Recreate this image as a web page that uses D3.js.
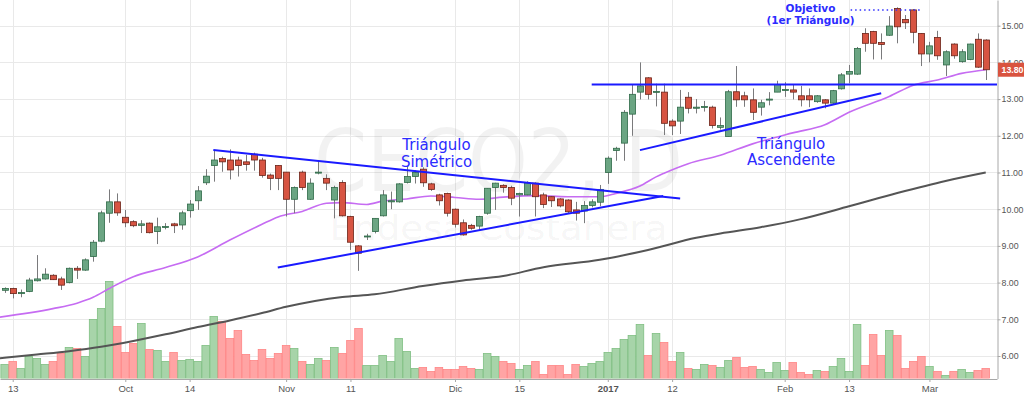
<!DOCTYPE html>
<html>
<head>
<meta charset="utf-8">
<script src="https://cdn.jsdelivr.net/npm/d3@7"></script>
<style>
html,body{margin:0;padding:0;background:#fff;}
svg{display:block;}
</style>
</head>
<body>
<svg id="chart" width="1024" height="394"></svg>
<script>
// ---------- DATA ----------
const xTickLabels = ["13","Oct","14","Nov","11","Dic","15","2017","12","Feb","13","Mar"];
const xTickIndex  = [1,15,23,35,43,56,64,75,83,97,105,115];
const yTickValues = [6,7,8,9,10,11,12,13,14,15];

const openP = [7.79,7.84,7.70,7.76,8.05,8.10,8.20,8.10,8.00,8.39,
  8.34,8.71,9.13,9.89,10.20,9.78,9.66,9.56,9.62,9.39,
  9.52,9.60,9.57,9.96,10.23,10.72,11.19,11.38,11.34,11.34,
  11.29,11.50,11.34,10.93,11.19,11.01,10.27,11.01,10.27,11.00,
  10.84,10.25,10.73,9.80,9.00,9.25,9.39,9.82,10.20,10.20,
  10.73,10.89,11.09,10.69,10.39,10.43,10.00,9.63,9.56,9.54,
  9.89,10.59,10.65,10.59,10.39,10.39,10.71,10.39,10.34,10.28,
  10.25,9.98,9.95,10.10,10.19,11.00,11.60,11.80,12.59,13.19,
  13.58,13.20,13.19,12.40,12.40,13.05,12.75,12.78,12.78,12.23,
  11.98,13.20,13.09,12.98,12.78,12.98,13.19,13.24,13.25,13.09,
  13.09,12.93,12.98,12.89,13.28,13.68,13.68,14.79,14.84,14.54,
  14.74,15.47,15.17,15.43,14.79,14.23,14.68,13.93,14.50,14.02,
  14.08,14.63,14.61];
const highP = [7.87,7.86,7.81,8.13,8.75,8.39,8.23,8.16,8.41,8.45,
  8.66,9.16,9.96,10.54,10.43,9.98,9.70,9.70,9.64,9.77,
  9.62,9.63,9.96,10.25,10.63,11.09,11.61,11.43,11.63,11.43,
  11.48,11.54,11.40,10.97,11.20,11.01,10.62,11.05,10.84,11.32,
  10.95,10.64,10.79,9.82,9.02,9.33,9.75,10.52,10.48,10.71,
  11.16,11.06,11.14,10.72,10.42,10.45,10.02,9.72,9.60,9.82,
  10.57,10.72,10.68,10.64,10.45,10.76,10.73,10.45,10.36,10.30,
  10.27,10.20,10.22,10.27,10.66,11.44,11.70,12.70,13.40,14.00,
  13.60,13.42,13.42,12.45,13.25,13.19,13.00,12.95,12.82,12.50,
  13.25,13.90,13.20,13.29,12.98,13.19,13.50,13.46,13.39,13.36,
  13.29,13.11,13.00,13.25,13.71,13.93,14.42,14.93,14.86,14.79,
  15.26,15.50,15.29,15.45,14.80,14.56,14.86,14.33,14.52,14.36,
  14.51,14.79,14.63];
const lowP = [7.72,7.57,7.60,7.74,8.03,8.08,8.07,7.80,7.98,8.10,
  8.32,8.57,9.10,9.63,9.82,9.51,9.51,9.35,9.34,9.05,
  9.45,9.35,9.44,9.77,9.98,10.66,10.75,11.02,10.81,10.89,
  11.05,11.05,10.86,10.52,10.52,9.80,9.89,10.52,10.25,10.95,
  10.52,9.75,9.80,8.89,8.32,9.16,9.34,9.80,10.00,10.18,
  10.70,10.70,10.61,10.50,10.10,9.80,9.50,9.28,9.44,9.42,
  9.85,9.98,10.45,10.11,9.80,10.38,9.80,10.03,10.06,10.05,
  9.88,9.69,9.62,10.05,10.08,10.69,11.32,11.32,12.00,12.99,
  12.99,12.80,12.02,12.02,12.05,12.61,12.61,12.66,12.20,12.17,
  11.98,12.79,12.79,12.43,12.55,12.83,13.19,13.06,12.99,12.80,
  12.78,12.90,12.75,12.87,13.26,13.43,13.66,14.29,14.08,14.08,
  14.72,14.52,14.91,14.52,13.90,14.00,14.07,13.63,14.10,13.99,
  14.06,13.85,13.52];
const closeP = [7.84,7.70,7.73,8.07,8.10,8.23,8.08,7.93,8.39,8.34,
  8.62,9.10,9.90,10.20,9.90,9.63,9.55,9.60,9.36,9.52,
  9.53,9.55,9.90,10.14,10.50,10.90,11.34,11.29,11.07,11.19,
  11.22,11.34,10.92,10.84,10.84,10.27,10.59,10.59,10.71,11.01,
  10.71,10.59,9.82,9.10,8.80,9.27,9.75,10.39,10.23,10.69,
  10.89,11.00,10.72,10.54,10.23,9.89,9.59,9.30,9.48,9.80,
  10.57,10.71,10.59,10.30,10.43,10.71,10.34,10.13,10.23,10.09,
  9.93,9.89,10.10,10.20,10.54,11.39,11.66,12.64,13.13,13.36,
  13.13,13.21,12.34,12.27,12.78,12.75,12.78,12.80,12.28,12.28,
  13.20,12.98,12.98,12.64,12.90,13.00,13.40,13.26,13.19,12.98,
  12.98,13.09,12.89,13.23,13.66,13.75,14.38,14.52,14.52,14.49,
  14.99,14.97,15.08,14.82,14.23,14.45,14.18,14.29,14.18,14.29,
  14.50,13.87,13.80];
const volumeV = [14,17,10,22,20,14,17,25,31,30,
  22,59,70,97,52,26,35,55,29,28,
  17,26,18,19,17,33,62,57,40,48,
  24,18,29,20,25,33,30,17,14,20,
  18,31,25,38,50,13,13,23,17,40,
  27,10,11,7,11,9,9,12,10,9,
  25,22,17,15,9,13,17,4,13,13,
  4,14,12,15,17,26,30,39,43,54,
  23,45,36,17,26,10,9,14,13,11,
  18,21,11,12,9,6,16,8,16,6,
  4,8,7,12,20,7,54,13,44,23,
  48,43,10,17,22,12,7,3,7,9,
  6,8,10];

// moving averages (bar index, price)
const maFastIdx = [-0.6,6,9,11,13,16,20,24,28,32,34,37,40,42,45,47,50,53,56,59,62,66,70,74,76,79,81,82,85,89,93,98,102,105,110,113,116,119,122];
const maFastVal = [7.06,7.29,7.44,7.60,7.84,8.16,8.41,8.70,9.16,9.59,9.79,9.94,10.16,10.18,10.13,10.22,10.28,10.36,10.32,10.27,10.33,10.37,10.34,10.34,10.43,10.63,10.88,10.98,11.24,11.47,11.78,12.08,12.30,12.64,13.07,13.38,13.52,13.70,13.80];
const maSlowIdx = [-0.6,4,8,12,16,20,24,28,32,35,42,46,52,57,62,67,74,80,86,89,94,99,105,111,117,122];
const maSlowVal = [5.94,6.04,6.13,6.25,6.41,6.59,6.79,6.97,7.17,7.34,7.61,7.68,7.91,8.06,8.18,8.42,8.62,8.89,9.22,9.34,9.51,9.73,10.08,10.44,10.77,11.00];

// trend lines: [startIndex, startPrice, endIndex, endPrice]
const trendLines = [
  [25.95, 11.61, 84.0, 10.29],
  [33.96, 8.41, 81.9, 10.36],
  [79.0, 11.61, 109.0, 13.16],
  [73.0, 13.40, 123.4, 13.40]
];
const targetLine = [105.2, 15.43, 114.1, 15.43];

const annotations = [
  {lines:["Triángulo","Simétrico"], i:53.7, p:11.61, size:15, bold:false},
  {lines:["Triángulo","Ascendente"], i:97.8, p:11.65, size:15, bold:false},
  {lines:["Objetivo","(1er Triángulo)"], i:100.2, p:15.37, size:10.5, bold:true}
];
const watermarkTitle = "CECO2, D";
const watermarkSub = "Endesa Costanera";

// ---------- CHART ----------
const svg = d3.select("#chart");
const plotW = 997, plotB = 378.5;
const x = d3.scaleLinear().domain([-0.58, 123.4]).range([0, plotW]);
const y = d3.scaleLinear().domain([5.387, 15.70]).range([plotB, 0]);
const yv = d3.scaleLinear().domain([0, 100]).range([plotB, plotB - 100]);

svg.append("defs").append("clipPath").attr("id","clip")
  .append("rect").attr("x",0).attr("y",0).attr("width",plotW).attr("height",plotB);

// grid
const grid = svg.append("g");
grid.selectAll("line.h").data(yTickValues).join("line")
  .attr("x1",0).attr("x2",plotW).attr("y1",d=>Math.round(y(d))+0.5).attr("y2",d=>Math.round(y(d))+0.5)
  .attr("stroke","#e9e9e9").attr("stroke-width",1);
grid.selectAll("line.v").data(xTickIndex).join("line")
  .attr("y1",0).attr("y2",plotB).attr("x1",d=>Math.round(x(d))+0.5).attr("x2",d=>Math.round(x(d))+0.5)
  .attr("stroke","#e9e9e9").attr("stroke-width",1);

// watermark
svg.append("text").text(watermarkTitle)
  .attr("x", plotW/2).attr("y", 191).attr("text-anchor","middle")
  .attr("font-family","DejaVu Sans, sans-serif").attr("font-size",86)
  .attr("textLength",369).attr("lengthAdjust","spacingAndGlyphs")
  .attr("fill","rgba(0,0,0,0.05)");
svg.append("text").text(watermarkSub)
  .attr("x", plotW/2).attr("y", 240).attr("text-anchor","middle")
  .attr("font-family","DejaVu Sans, sans-serif").attr("font-size",34)
  .attr("textLength",338).attr("lengthAdjust","spacingAndGlyphs")
  .attr("fill","rgba(0,0,0,0.05)");

const plot = svg.append("g").attr("clip-path","url(#clip)");
const idx = d3.range(closeP.length);
const isUp = i => closeP[i] >= openP[i];

// volume
plot.append("g").selectAll("rect").data(idx).join("rect")
  .attr("x", i => x(i) - 3.8).attr("width", 7.6)
  .attr("y", i => yv(volumeV[i])).attr("height", i => plotB - yv(volumeV[i]))
  .attr("fill", i => isUp(i) ? "#a7d4a9" : "#ffa4a4")
  .attr("stroke", i => isUp(i) ? "#7fbf82" : "#ff8585").attr("stroke-width",0.8);

// moving averages
const lineGen = d3.line().x(d=>x(d[0])).y(d=>y(d[1])).curve(d3.curveMonotoneX);
plot.append("path").datum(maSlowIdx.map((d,k)=>[d,maSlowVal[k]]))
  .attr("d", lineGen).attr("fill","none").attr("stroke","#555555").attr("stroke-width",2);
plot.append("path").datum(maFastIdx.map((d,k)=>[d,maFastVal[k]]))
  .attr("d", lineGen).attr("fill","none").attr("stroke","#c66cf2").attr("stroke-width",1.6);

// candles
const cg = plot.append("g");
cg.selectAll("line").data(idx).join("line")
  .attr("x1", i => Math.round(x(i))+0.5).attr("x2", i => Math.round(x(i))+0.5)
  .attr("y1", i => y(highP[i])).attr("y2", i => y(lowP[i]))
  .attr("stroke","#7a7a7c").attr("stroke-width",1);
cg.selectAll("rect").data(idx).join("rect")
  .attr("x", i => Math.round(x(i)) - 2.5).attr("width", 6)
  .attr("y", i => y(Math.max(openP[i],closeP[i])))
  .attr("height", i => Math.max(1, Math.abs(y(openP[i]) - y(closeP[i]))))
  .attr("fill", i => isUp(i) ? "#6ba583" : "#d75442")
  .attr("stroke", i => isUp(i) ? "#2f6a48" : "#6b2318").attr("stroke-width",0.8);

// trend lines
plot.append("g").selectAll("line").data(trendLines).join("line")
  .attr("x1", d=>x(d[0])).attr("y1", d=>y(d[1])).attr("x2", d=>x(d[2])).attr("y2", d=>y(d[3]))
  .attr("stroke","#1a1aff").attr("stroke-width",2);
plot.append("line")
  .attr("x1", x(targetLine[0])).attr("y1", y(targetLine[1]))
  .attr("x2", x(targetLine[2])).attr("y2", y(targetLine[3]))
  .attr("stroke","#3030ff").attr("stroke-width",1.5).attr("stroke-dasharray","1.5,3");

// annotations
annotations.forEach(a => {
  const t = svg.append("text")
    .attr("font-family","DejaVu Sans, sans-serif").attr("font-size",a.size)
    .attr("font-weight", a.bold ? "bold" : "normal")
    .attr("fill","#2b2bff").attr("text-anchor","middle");
  a.lines.forEach((ln,k) => {
    t.append("tspan").attr("x", x(a.i)).attr("y", y(a.p) + k*(a.size*1.1)).text(ln);
  });
});

// axes
const yAxis = svg.append("g").attr("transform",`translate(${plotW+0.5},0)`)
  .call(d3.axisRight(y).tickValues(yTickValues).tickFormat(d3.format(".2f")).tickSize(3).tickSizeOuter(0));
yAxis.select(".domain").attr("stroke","#a8a8a8");
yAxis.selectAll(".tick line").attr("stroke","#a8a8a8");
yAxis.selectAll("text").attr("fill","#555").attr("font-size",8.8).attr("font-family","Liberation Sans, Arial, sans-serif").attr("x",4);

const xAxis = svg.append("g").attr("transform",`translate(0,${plotB+0.5})`)
  .call(d3.axisBottom(x).tickValues(xTickIndex).tickFormat((d,k)=>xTickLabels[k]).tickSize(3).tickSizeOuter(0));
xAxis.select(".domain").attr("stroke","#a8a8a8");
xAxis.selectAll(".tick line").attr("stroke","#a8a8a8");
xAxis.selectAll("text").attr("fill","#555").attr("font-size",9.5).attr("font-family","Liberation Sans, Arial, sans-serif")
  .attr("y",6.5).attr("font-weight",(d,k)=>xTickLabels[k]==="2017"?"bold":"normal");

// last price label
const last = closeP[closeP.length-1];
svg.append("rect").attr("x", plotW+1).attr("y", y(last)-7).attr("width", 1024-plotW-1).attr("height", 14)
  .attr("fill","#d9533f");
svg.append("text").text(d3.format(".2f")(last))
  .attr("x", plotW+4.5).attr("y", y(last)+3.2)
  .attr("font-family","Liberation Sans, Arial, sans-serif").attr("font-size",8.8).attr("font-weight","bold")
  .attr("fill","#fff");
</script>
</body>
</html>
